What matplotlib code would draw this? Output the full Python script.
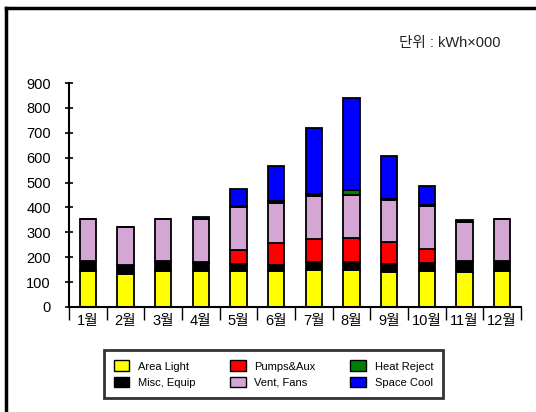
import matplotlib.pyplot as plt
import numpy as np
from matplotlib.lines import Line2D

plt.rcParams['font.family'] = ['Liberation Sans', 'Noto Sans CJK KR', 'DejaVu Sans']

months = ["1월", "2월", "3월", "4월", "5월", "6월", "7월", "8월", "9월", "10월", "11월", "12월"]

area_light   = [145, 131, 145, 143, 144, 143, 147, 149, 142, 145, 141, 145]
misc_equip   = [38, 36, 38, 35, 30, 24, 32, 32, 31, 33, 42, 38]
pumps_aux    = [0, 0, 0, 4, 56, 89, 93, 96, 88, 56, 0, 0]
vent_fans    = [169, 153, 169, 170, 170, 163, 172, 173, 167, 172, 160, 170]
heat_reject  = [0, 0, 0, 3, 4, 5, 9, 21, 5, 3, 0, 0]
space_cool   = [0, 0, 0, 8, 70, 141, 267, 370, 172, 76, 6, 0]

series = [
    ("Area Light", area_light, "#ffff00"),
    ("Misc, Equip", misc_equip, "#000000"),
    ("Pumps&Aux", pumps_aux, "#ff0000"),
    ("Vent, Fans", vent_fans, "#d4a6d4"),
    ("Heat Reject", heat_reject, "#008000"),
    ("Space Cool", space_cool, "#0000ff"),
]

fig = plt.figure(figsize=(5.36, 4.12), dpi=100)
ax = fig.add_axes([0.1287, 0.2549, 0.8433, 0.5436])

x = np.arange(len(months)) + 0.5
bottom = np.zeros(len(months))
handles = []
for name, vals, color in series:
    vals = np.array(vals, dtype=float)
    ax.bar(x, vals, width=0.44, bottom=bottom, color=color,
           edgecolor="black", linewidth=1.3)
    bottom += vals
    handles.append(plt.Rectangle((0, 0), 1, 1, facecolor=color,
                                 edgecolor="black", linewidth=1.0, label=name))

ax.set_xlim(0, 12)
ax.set_ylim(0, 900)
ax.set_yticks(range(0, 901, 100))
ax.tick_params(axis="y", direction="inout", length=6, width=1.2, labelsize=10.5, pad=10)
ax.set_xticks(range(0, 13))
ax.set_xticklabels([])
ax.set_xticks(x, minor=True)
ax.set_xticklabels(months, minor=True, fontsize=10.5)
ax.tick_params(axis="x", which="major", direction="out", length=9, width=1.0)
ax.tick_params(axis="x", which="minor", length=0, pad=5)
for s in ["top", "right"]:
    ax.spines[s].set_visible(False)
ax.spines["left"].set_linewidth(1.5)
ax.spines["bottom"].set_linewidth(1.5)

fig.text(0.933, 0.895, "단위 : kWh×000", ha="right", va="center", fontsize=10.5, color="#222222")

leg = fig.legend(handles=handles, ncol=3, loc="center", bbox_to_anchor=(0.51, 0.092),
                 fontsize=8, frameon=True, fancybox=False, handlelength=1.4,
                 handleheight=1.1, handletextpad=0.8, columnspacing=3.1,
                 borderpad=0.9, labelspacing=0.45, borderaxespad=0)
leg.get_frame().set_edgecolor("black")
leg.get_frame().set_linewidth(2)

# outer frame (left and top edges)
fig.add_artist(Line2D([0.011, 0.011], [0.0, 0.98], color="black", linewidth=2.5, transform=fig.transFigure))
fig.add_artist(Line2D([0.011, 1.0], [0.98, 0.98], color="black", linewidth=2.5, transform=fig.transFigure))

fig.savefig("out.png", dpi=100)
